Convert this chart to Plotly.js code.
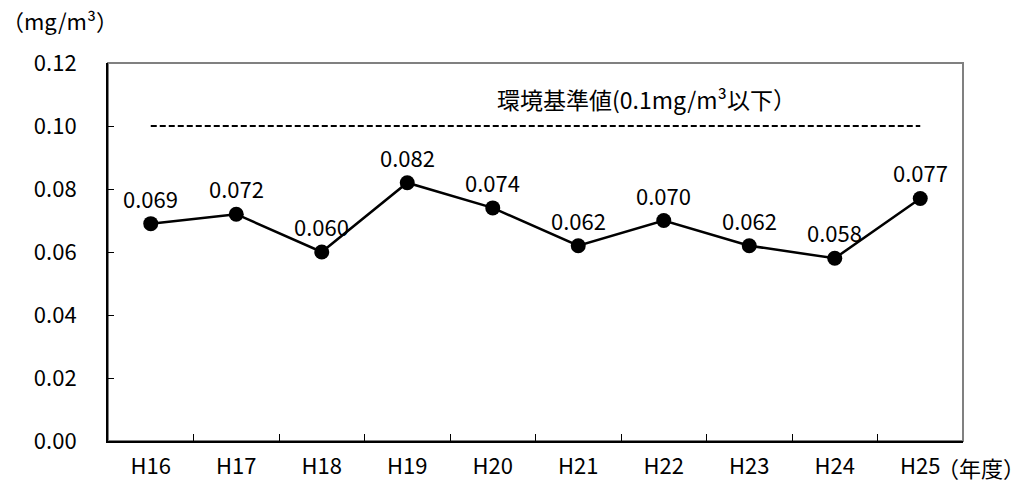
<!DOCTYPE html>
<html><head><meta charset="utf-8">
<script src="https://cdn.plot.ly/plotly-3.0.1.min.js"></script>
<style>html,body{margin:0;padding:0;background:#fff;}</style>
</head><body>
<div id="chart" style="width:1031px;height:482px;"></div>
<script>
const years = ["H16","H17","H18","H19","H20","H21","H22","H23","H24","H25"];
const values = [0.069,0.072,0.060,0.082,0.074,0.062,0.070,0.062,0.058,0.077];
const labels = ["0.069","0.072","0.060","0.082","0.074","0.062","0.070","0.062","0.058","0.077"];
const standard = [0.1,0.1,0.1,0.1,0.1,0.1,0.1,0.1,0.1,0.1];
const yTicks = [0,0.02,0.04,0.06,0.08,0.10,0.12];

const font = "'Noto Sans CJK JP', 'Noto Sans', sans-serif";
const FS = 22;

const traces = [
  {x: years, y: standard, mode: 'lines', line: {color:'#000', width: 2, dash: '6px,3px'}, hoverinfo:'skip', showlegend:false},
  {x: years, y: values, mode: 'lines+markers',
   line: {color:'#000', width: 2.5}, marker: {color:'#000', size: 15}, showlegend:false, cliponaxis:false}
];

const labelAnns = years.map((yr, i) => ({
  xref:'x', yref:'y', x: yr, y: values[i], yshift: 26, xanchor:'center', yanchor:'middle',
  showarrow:false, text: labels[i], font:{family:font, size:FS, color:'#000'}
}));

const layout = {
  width: 1031, height: 482,
  margin: {l:108, r:68, t:63, b:41},
  paper_bgcolor:'#fff', plot_bgcolor:'#fff',
  font: {family: font, size: FS, color:'#000'},
  xaxis: {type:'category', range:[-0.5, 9.5], autorange:false, showgrid:false, showline:true, linecolor:'#000', linewidth:2,
          ticks:'inside', tickson:'boundaries', ticklen:7, tickcolor:'#000', tickwidth:1,
          tickfont:{family:font, size:FS}, ticklabelstandoff: 5, zeroline:false},
  yaxis: {range:[0,0.12], autorange:false, tickvals: yTicks, tickformat:'.2f', showgrid:false, showline:true,
          linecolor:'#000', linewidth:2, ticks:'inside', ticklen:6, tickcolor:'#000', tickwidth:1,
          tickfont:{family:font, size:FS}, ticklabelstandoff: 25, zeroline:false},
  shapes: [
    {type:'rect', xref:'paper', yref:'paper', x0:0, x1:1, y0:0, y1:1, line:{color:'#808080', width:2}, layer:'below'}
  ],
  annotations: labelAnns.concat([
    {xref:'paper', yref:'paper', x:-108/855, y:1.0, yshift:43, xanchor:'left', yanchor:'middle', showarrow:false,
     text:'（mg/m³）', font:{family:font, size:FS}},
    {xref:'paper', yref:'paper', x:1.0, y:0, yshift:-26, xshift:-28, xanchor:'left', yanchor:'middle', showarrow:false,
     text:'（年度）', font:{family:font, size:FS}},
    {xref:'x', yref:'y', x:5.8, y:0.1, yshift:27, xanchor:'center', yanchor:'middle', showarrow:false,
     text:'環境基準値(0.1mg/m³以下）', font:{family:font, size:23}}
  ])
};
Plotly.newPlot('chart', traces, layout, {displayModeBar:false, staticPlot:true});
</script>
</body></html>
